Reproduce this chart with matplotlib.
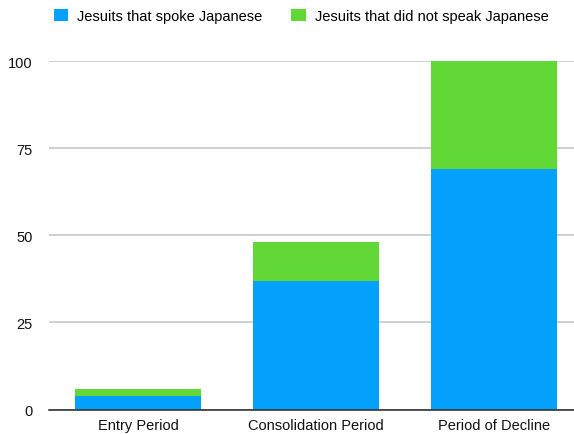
import matplotlib
matplotlib.use("Agg")
import matplotlib.pyplot as plt
import numpy as np

categories = ["Entry Period", "Consolidation Period", "Period of Decline"]
spoke = [4, 37, 69]
not_spoke = [2, 11, 31]
series_names = ["Jesuits that spoke Japanese", "Jesuits that did not speak Japanese"]
yticks = [0, 25, 50, 75, 100]

plt.rcParams['font.family'] = ['Liberation Sans', 'DejaVu Sans']

W, H = 574, 435
fig = plt.figure(figsize=(W/100, H/100), dpi=100)
left, right = 49, 49 + 3*178
bottom, top = 410.5, 62
ax = fig.add_axes([left/W, 1 - bottom/H, (right-left)/W, (bottom-top)/H])

x = np.arange(len(categories))
blue = "#03A1FC"
green = "#61D836"
b1 = ax.bar(x, spoke, width=0.713, color=blue, label=series_names[0], zorder=3)
b2 = ax.bar(x, not_spoke, bottom=spoke, width=0.713, color=green, label=series_names[1], zorder=3)

ax.set_xlim(-0.5, 2.5)
ax.set_ylim(0, 100)
ax.set_yticks(yticks)
ax.set_xticks(x)
ax.set_xticklabels(categories, fontsize=10.5, color="#111111")
ax.tick_params(axis='y', length=0, pad=12, labelsize=10.5, labelcolor="#111111")
ax.tick_params(axis='x', length=0, pad=6)
ax.grid(axis='y', color="#c8c8c8", linewidth=1.2, zorder=0)
ax.set_axisbelow(True)
for s in ['top', 'right', 'left']:
    ax.spines[s].set_visible(False)
ax.spines['bottom'].set_color("#333333")
ax.spines['bottom'].set_linewidth(1.2)
ax.spines['bottom'].set_zorder(4)

fig.legend(handles=[b1, b2], loc='center', bbox_to_anchor=(301/W, 1 - 17/H), ncol=2,
           frameon=False, fontsize=10.5, handlelength=1.0, handleheight=0.8,
           handletextpad=0.6, columnspacing=2.0)

fig.savefig("out.png", dpi=100)
